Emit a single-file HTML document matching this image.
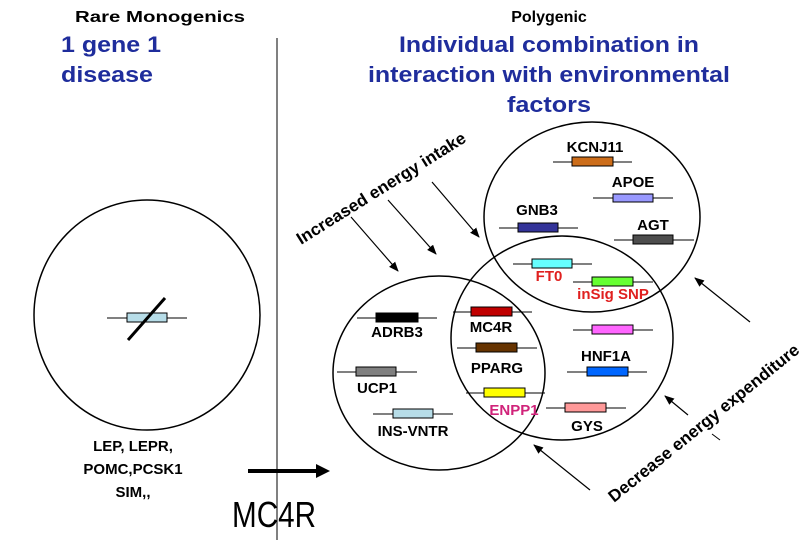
<!DOCTYPE html>
<html><head><meta charset="utf-8"><style>
html,body{margin:0;padding:0;background:#fff;width:811px;height:540px;overflow:hidden}
svg{display:block}
text{font-family:"Liberation Sans",Arial,sans-serif;font-weight:bold}
</style></head><body>
<svg width="811" height="540" viewBox="0 0 811 540" xmlns="http://www.w3.org/2000/svg">
<defs><marker id="ah" markerWidth="10" markerHeight="8" refX="9" refY="4" orient="auto" markerUnits="userSpaceOnUse"><path d="M0,0 L10,4 L0,8 Z" fill="#000"/></marker></defs>
<text x="160" y="22" font-size="16" text-anchor="middle" textLength="170" lengthAdjust="spacingAndGlyphs">Rare Monogenics</text>
<text x="549" y="22" font-size="16" text-anchor="middle">Polygenic</text>
<g fill="#1f2d9c" font-size="22">
<text x="61" y="52" textLength="100" lengthAdjust="spacingAndGlyphs">1 gene 1</text>
<text x="61" y="82" textLength="92" lengthAdjust="spacingAndGlyphs">disease</text>
<text x="549" y="52" text-anchor="middle" textLength="300" lengthAdjust="spacingAndGlyphs">Individual combination in</text>
<text x="549" y="82" text-anchor="middle" textLength="362" lengthAdjust="spacingAndGlyphs">interaction with environmental</text>
<text x="549" y="112" text-anchor="middle" textLength="84" lengthAdjust="spacingAndGlyphs">factors</text>
</g>
<line x1="277" y1="38" x2="277" y2="540" stroke="#000" stroke-width="1"/>
<g fill="none" stroke="#000" stroke-width="1.5">
<ellipse cx="147" cy="315" rx="113" ry="115"/>
<ellipse cx="592" cy="217" rx="108" ry="95"/>
<ellipse cx="562" cy="338" rx="111" ry="102"/>
<ellipse cx="439" cy="373" rx="106" ry="97"/>
</g>
<g stroke="#000" stroke-width="1">
<line x1="107" y1="318" x2="187" y2="318"/>
<line x1="553" y1="162" x2="632" y2="162"/>
<line x1="593" y1="198" x2="673" y2="198"/>
<line x1="499" y1="228" x2="578" y2="228"/>
<line x1="614" y1="240" x2="694" y2="240"/>
<line x1="513" y1="264" x2="592" y2="264"/>
<line x1="573" y1="282" x2="653" y2="282"/>
<line x1="453" y1="312" x2="532" y2="312"/>
<line x1="357" y1="318" x2="437" y2="318"/>
<line x1="457" y1="348" x2="537" y2="348"/>
<line x1="337" y1="372" x2="417" y2="372"/>
<line x1="573" y1="330" x2="653" y2="330"/>
<line x1="567" y1="372" x2="647" y2="372"/>
<line x1="466" y1="393" x2="545" y2="393"/>
<line x1="546" y1="408" x2="626" y2="408"/>
<line x1="373" y1="414" x2="453" y2="414"/>
</g>
<g stroke="#000" stroke-width="1">
<rect x="127" y="313" width="40" height="9" fill="#b7dde8"/>
<rect x="572" y="157" width="41" height="9" fill="#cc6d1a"/>
<rect x="613" y="194" width="40" height="8" fill="#9999ff"/>
<rect x="518" y="223" width="40" height="9" fill="#333399"/>
<rect x="633" y="235" width="40" height="9" fill="#4d4d4d"/>
<rect x="532" y="259" width="40" height="9" fill="#66ffff"/>
<rect x="592" y="277" width="41" height="9" fill="#66ff33"/>
<rect x="471" y="307" width="41" height="9" fill="#c00000"/>
<rect x="376" y="313" width="42" height="9" fill="#000"/>
<rect x="476" y="343" width="41" height="9" fill="#663300"/>
<rect x="356" y="367" width="40" height="9" fill="#808080"/>
<rect x="592" y="325" width="41" height="9" fill="#ff66ff"/>
<rect x="587" y="367" width="41" height="9" fill="#0066ff"/>
<rect x="484" y="388" width="41" height="9" fill="#ffff00"/>
<rect x="565" y="403" width="41" height="9" fill="#ff9999"/>
<rect x="393" y="409" width="40" height="9" fill="#b7dde8"/>
</g>
<line x1="128" y1="340" x2="165" y2="298" stroke="#000" stroke-width="3"/>
<g font-size="15">
<text x="595" y="152" text-anchor="middle">KCNJ11</text>
<text x="633" y="187" text-anchor="middle">APOE</text>
<text x="537" y="215" text-anchor="middle">GNB3</text>
<text x="653" y="230" text-anchor="middle">AGT</text>
<text x="549" y="281" text-anchor="middle" fill="#e0201f">FT0</text>
<text x="613" y="299" text-anchor="middle" fill="#e0201f">inSig SNP</text>
<text x="491" y="332" text-anchor="middle">MC4R</text>
<text x="397" y="337" text-anchor="middle">ADRB3</text>
<text x="497" y="373" text-anchor="middle">PPARG</text>
<text x="377" y="393" text-anchor="middle">UCP1</text>
<text x="606" y="361" text-anchor="middle">HNF1A</text>
<text x="514" y="415" text-anchor="middle" fill="#d0237a">ENPP1</text>
<text x="587" y="431" text-anchor="middle">GYS</text>
<text x="413" y="436" text-anchor="middle">INS-VNTR</text>
</g>
<text transform="translate(301,245) rotate(-32)" font-size="17" textLength="196" lengthAdjust="spacingAndGlyphs">Increased energy intake</text>
<text transform="translate(614,503) rotate(-39)" font-size="17" textLength="240" lengthAdjust="spacingAndGlyphs">Decrease energy expenditure</text>
<g stroke="#000" stroke-width="1.2" marker-end="url(#ah)">
<line x1="432" y1="182" x2="479" y2="237"/>
<line x1="388" y1="200" x2="436" y2="254"/>
<line x1="351" y1="217" x2="398" y2="271"/>
<line x1="590" y1="490" x2="534" y2="445"/>
<line x1="688" y1="415" x2="665" y2="396"/>
<line x1="750" y1="322" x2="695" y2="278"/>
</g>
<line x1="712" y1="434" x2="720" y2="440" stroke="#000" stroke-width="1"/>
<g font-size="15" text-anchor="middle">
<text x="133" y="451">LEP, LEPR,</text>
<text x="133" y="474">POMC,PCSK1</text>
<text x="133" y="497">SIM,,</text>
</g>
<line x1="248" y1="471" x2="318" y2="471" stroke="#000" stroke-width="4"/>
<path d="M316,464 L330,471 L316,478 Z" fill="#000"/>
<text x="232" y="527" font-size="36" font-weight="normal" style="font-weight:normal" textLength="84" lengthAdjust="spacingAndGlyphs">MC4R</text>
</svg>
</body></html>
